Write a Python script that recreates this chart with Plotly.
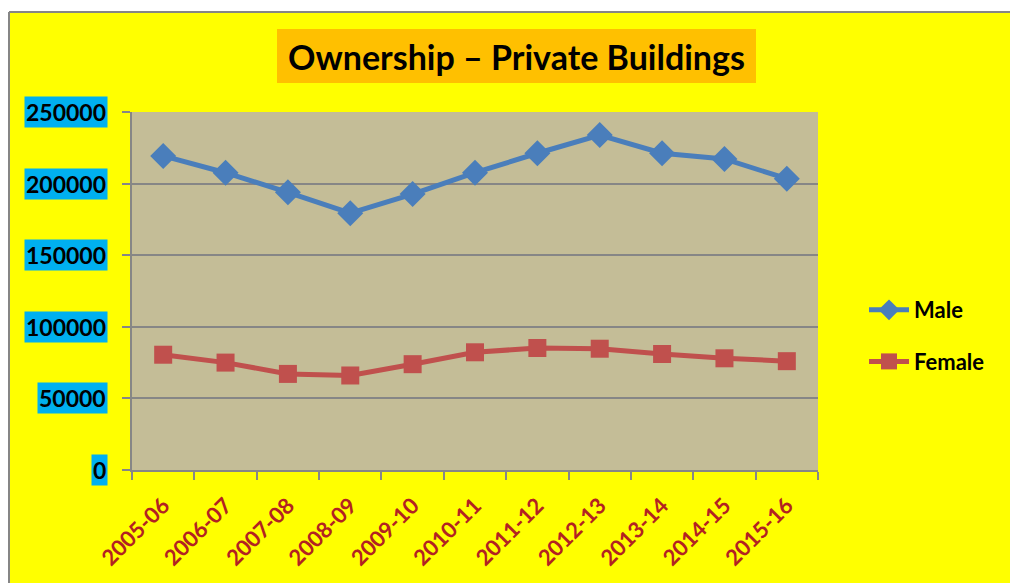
import plotly.graph_objects as go

years = ["2005-06", "2006-07", "2007-08", "2008-09", "2009-10", "2010-11",
         "2011-12", "2012-13", "2013-14", "2014-15", "2015-16"]
male = [219300, 207600, 193900, 179300, 192700, 207600, 221200, 233900, 221200, 217200, 203400]
female = [80500, 75000, 67100, 66000, 73900, 82200, 85200, 84700, 81000, 78000, 76000]
y_ticks = [0, 50000, 100000, 150000, 200000, 250000]
y_labels = [str(v) for v in y_ticks]
title_text = "Ownership – Private Buildings"

W, H = 1010, 583
L, R, T, B = 132, 818, 112, 470


def px(x):
    return (x - L) / (R - L)


def py(y):
    return (B - y) / (B - T)


FONT = "Lato"
GRAY = "#868686"

fig = go.Figure()
fig.add_trace(go.Scatter(
    x=years, y=male, name="<b>Male</b>", mode="lines+markers", legendgroup="m",
    line=dict(color="#4A7EBB", width=5),
    marker=dict(symbol="diamond", size=20, color="#4A7EBB"),
))
fig.add_trace(go.Scatter(
    x=years, y=female, name="<b>Female</b>", mode="lines+markers", legendgroup="f",
    line=dict(color="#C0504D", width=5),
    marker=dict(symbol="square", size=18, color="#C0504D"),
))

shapes = [
    dict(type="rect", xref="paper", yref="paper", x0=-0.4, x1=px(9), y0=-0.5, y1=1.5,
         fillcolor="white", line=dict(width=0), layer="below"),
    dict(type="rect", xref="paper", yref="paper", x0=-0.4, x1=1.5, y0=py(12), y1=1.5,
         fillcolor="white", line=dict(width=0), layer="below"),
    dict(type="line", xref="paper", yref="paper", x0=px(9), x1=px(9), y0=-0.5, y1=py(12),
         line=dict(color=GRAY, width=2)),
    dict(type="line", xref="paper", yref="paper", x0=px(9), x1=1.5, y0=py(12), y1=py(12),
         line=dict(color=GRAY, width=2)),
    dict(type="rect", xref="paper", yref="paper", x0=px(277), x1=px(756), y0=py(83), y1=py(29),
         fillcolor="#FFC000", line=dict(width=0)),
]

annotations = [
    dict(text="<b>" + title_text + "</b>", xref="paper", yref="paper", x=px(516), y=py(57),
         xanchor="center", yanchor="middle", showarrow=False,
         font=dict(family=FONT, size=34, color="black")),
]
for v, lab in zip(y_ticks, y_labels):
    annotations.append(dict(
        text="<b>" + lab + "</b>", xref="paper", yref="y", x=px(108), y=v,
        xanchor="right", yanchor="middle", showarrow=False,
        bgcolor="#00B0F0", borderpad=1,
        font=dict(family=FONT, size=23, color="black"),
    ))

fig.update_layout(
    width=W, height=H,
    margin=dict(l=L, r=W - R, t=T, b=H - B, pad=0, autoexpand=False),
    paper_bgcolor="#FFFF00",
    plot_bgcolor="#C4BD97",
    shapes=shapes,
    annotations=annotations,
    showlegend=True,
    legend=dict(x=px(864), y=py(336), xanchor="left", yanchor="middle",
                font=dict(family=FONT, size=22, color="black"),
                bgcolor="rgba(0,0,0,0)", traceorder="grouped", tracegroupgap=20,
                itemwidth=40),
    xaxis=dict(
        type="category", categoryorder="array", categoryarray=years,
        showgrid=False, showline=True, linecolor=GRAY, linewidth=2,
        ticks="outside", tickson="boundaries", ticklen=8, tickcolor=GRAY, tickwidth=2,
        tickangle=-45, tickfont=dict(family=FONT, size=22, color="#B22222"),
        tickprefix="<b>", ticksuffix="</b>", ticklabelstandoff=12,
        range=[-0.5, len(years) - 0.5], automargin=False,
    ),
    yaxis=dict(
        range=[0, 250000], tickvals=y_ticks, showticklabels=False,
        showgrid=True, gridcolor=GRAY, gridwidth=1.5,
        showline=True, linecolor=GRAY, linewidth=2,
        ticks="outside", ticklen=8, tickcolor=GRAY, tickwidth=2,
        zeroline=False, automargin=False,
    ),
)

fig.write_html("out.html", config={"displayModeBar": False},
               post_script="document.body.style.margin='0px';")
